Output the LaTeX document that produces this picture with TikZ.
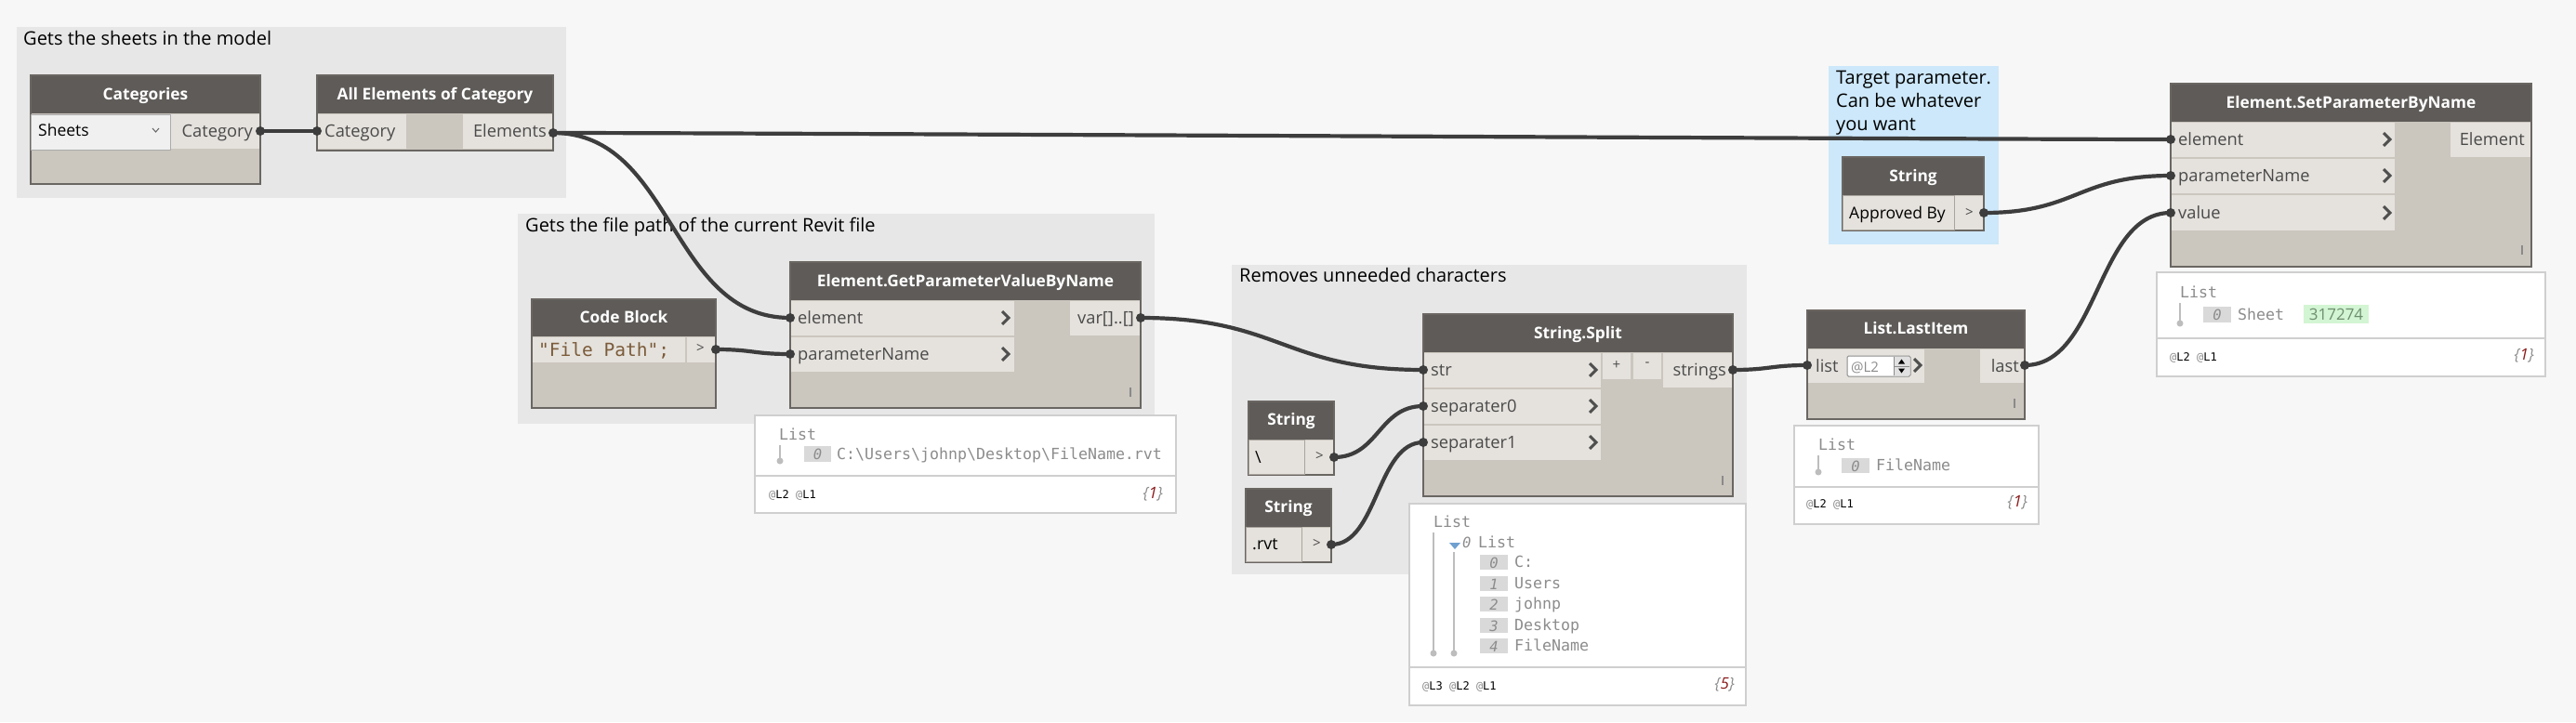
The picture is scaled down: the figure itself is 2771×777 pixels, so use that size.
\documentclass[tikz,border=0pt]{standalone}
\usepackage{fontspec}
\setmainfont{Open Sans}
\setmonofont{DejaVu Sans Mono}
\definecolor{bgc}{HTML}{F7F7F7}
\definecolor{grpc}{HTML}{E7E7E7}
\definecolor{hdrc}{HTML}{5E5B58}
\definecolor{bodyc}{HTML}{CBC6BE}
\definecolor{rowc}{HTML}{E5E2DD}
\definecolor{edgec}{HTML}{6A6662}
\definecolor{wirec}{HTML}{3D3D3D}
\definecolor{txtc}{HTML}{4A4A4A}
\definecolor{watchedge}{HTML}{CFCFCF}
\definecolor{idxc}{HTML}{D9D9D9}
\definecolor{wtxt}{HTML}{8C8C8C}
\definecolor{treec}{HTML}{BDBDBD}
\definecolor{notec}{HTML}{CDE8FA}
\definecolor{codec}{HTML}{7B5B3A}
\definecolor{greenc}{HTML}{D3F5D3}
\definecolor{greent}{HTML}{6E8E6E}
\definecolor{darkredc}{HTML}{8B1A1A}
\definecolor{chevc}{HTML}{4F4F4F}
\definecolor{gripc}{HTML}{8A8A8A}
\definecolor{tric}{HTML}{6FA0D0}
\definecolor{fieldedge}{HTML}{A9A49D}
\newcommand{\dynnode}[5]{%
  \fill[bodyc] (#1,#2) rectangle (#3,#4);
  \fill[hdrc] (#1,#2) rectangle (#3,#5);
  \draw[nodeedge] (#1,#2) rectangle (#3,#4);}
\newcommand{\dynchev}[2]{\draw[chevst] (#1,#2) ++(-4,-7) -- ++(7,7) -- ++(-7,7);}
\newcommand{\dyngrip}[2]{\draw[grip] (#1,#2) -- ++(0,10);}
\newcommand{\dynwatch}[5]{%
  \draw[wbox] (#1,#2) rectangle (#3,#4);
  \draw[draw=watchedge,line width=2pt] (#1,#5) -- (#3,#5);}
\begin{document}
\begin{tikzpicture}[x=1pt,y=-1pt,
  wire/.style={draw=wirec,line width=4.2pt},
  hdrtxt/.style={anchor=base,inner sep=0pt,text=white,font=\fontsize{17.3}{20}\selectfont\bfseries},
  lbl/.style={anchor=base west,inner sep=0pt,text=txtc,font=\fontsize{18.3}{22}\selectfont},
  lblr/.style={anchor=base east,inner sep=0pt,text=txtc,font=\fontsize{18.3}{22}\selectfont},
  gtitle/.style={anchor=base west,inner sep=0pt,text=black,font=\fontsize{20}{24}\selectfont},
  wtext/.style={anchor=base west,inner sep=0pt,text=wtxt,font=\ttfamily\fontsize{16.6}{19}\selectfont},
  wfoot/.style={anchor=base west,inner sep=0pt,text=black,font=\ttfamily\fontsize{12}{14}\selectfont},
  wcount/.style={anchor=base east,inner sep=0pt,text=wtxt,font=\itshape\fontsize{17}{20}\selectfont},
  idxtxt/.style={anchor=center,inner sep=0pt,text=wtxt,font=\ttfamily\itshape\fontsize{15.5}{18}\selectfont},
  chevst/.style={draw=chevc,line width=3pt},
  grip/.style={draw=gripc,line width=1.5pt},
  nodeedge/.style={draw=edgec,line width=1.5pt},
  wbox/.style={fill=white,draw=watchedge,line width=2pt},
  treel/.style={draw=treec,line width=1.5pt},
  rowfill/.style={fill=rowc},
  fieldst/.style={fill=rowc,draw=fieldedge,line width=1pt},
]
% background
\fill[bgc] (0,0) rectangle (2771,777);
\useasboundingbox (0,0) rectangle (2771,777);

% ---------------- groups
\fill[grpc] (18,29) rectangle (609,213);
\node[gtitle] (g1) at (25,48) {Gets the sheets in the model};
\fill[grpc] (557,230) rectangle (1242,456);
\node[gtitle] (g2) at (565,249) {Gets the file path of the current Revit file};
\fill[grpc] (1325,285) rectangle (1879,618);
\node[gtitle] (g3) at (1333,303) {Removes unneeded characters};
\fill[notec] (1967,71) rectangle (2150,263);
\node[gtitle] (n1) at (1975,90) {Target parameter.};
\node[gtitle] (n2) at (1975,115) {Can be whatever};
\node[gtitle] (n3) at (1975,140) {you want};

% ---------------- Categories
\dynnode{33}{81}{280}{198}{122}
\node[hdrtxt] (t-cat) at (156.5,107) {Categories};
\draw[fill=black!6,draw=black!33,line width=1pt] (33,123) rectangle (183,161);
\node[anchor=base west,inner sep=0pt,font=\fontsize{17.5}{20}\selectfont] (sheets) at (41,146) {Sheets};
\draw[draw=black!60,line width=1pt] (164,138) -- (167.5,142) -- (171,138);
\fill[rowfill] (183.5,122.8) rectangle (279.2,160);
\node[lblr] (l-catout) at (272,147) {Category};
\coordinate (catOut) at (280,141);

% ---------------- All Elements of Category
\dynnode{341}{81}{595}{162}{122}
\node[hdrtxt] (t-ae) at (468,107) {All Elements of Category};
\fill[rowfill] (341.8,122.8) rectangle (437,160);
\fill[rowfill] (498,122.8) rectangle (594.2,160);
\node[lbl] (l-aein) at (349,147) {Category};
\node[lblr] (l-aeout) at (588,147) {Elements};
\coordinate (aeIn) at (341,141);
\coordinate (aeOut) at (595,143);

% ---------------- Code Block
\dynnode{572}{322}{770}{439}{362}
\node[hdrtxt] (t-cb) at (671,347) {Code Block};
\fill[rowfill] (572.8,362.8) rectangle (737,390);
\fill[rowfill] (738.5,362.8) rectangle (769.2,390);
\node[anchor=base west,inner sep=0pt,text=codec,font=\ttfamily\fontsize{19.5}{22}\selectfont] (code) at (579,383) {"File Path";};
\node[anchor=center,inner sep=0pt,text=txtc,font=\fontsize{15}{18}\selectfont] (cbgt) at (753.5,375) {>};
\coordinate (cbOut) at (770,376);

% ---------------- Element.GetParameterValueByName
\dynnode{850}{282}{1227}{439}{323}
\node[hdrtxt] (t-gp) at (1038.5,308) {Element.GetParameterValueByName};
\fill[rowfill] (850.8,323.8) rectangle (1091,361);
\fill[rowfill] (850.8,363) rectangle (1091,400);
\fill[rowfill] (1151,323.8) rectangle (1226.2,361);
\node[lbl] (l-gpe) at (858,348) {element};
\node[lbl] (l-gpp) at (858,387) {parameterName};
\node[lblr] (l-gpo) at (1220,348) {var[]..[]};
\dynchev{1082}{342}
\dynchev{1082}{381}
\dyngrip{1216}{417}
\coordinate (gpElem) at (850,342);
\coordinate (gpPN) at (850,381);
\coordinate (gpOut) at (1227,342);

% watch 1
\dynwatch{812}{447}{1265}{552}{512}
\node[wtext] (w1l) at (838,473) {List};
\draw[treel] (839,479) -- (839,495);
\fill[treec] (839,496) circle[radius=3.5pt];
\fill[idxc] (865,480) rectangle (894,497);
\node[idxtxt] (w1i) at (879.5,489) {0};
\node[wtext] (w1v) at (900,494) {C:\textbackslash Users\textbackslash johnp\textbackslash Desktop\textbackslash FileName.rvt};
\node[wfoot] (w1f) at (827,536) {{\color{wtxt}@}L2 {\color{wtxt}@}L1};
\node[wcount] (w1c) at (1251,536) {\{\textcolor{darkredc}{1}\}};

% ---------------- String.Split
\dynnode{1531}{338}{1864}{534}{379}
\node[hdrtxt] (t-ss) at (1697.5,364) {String.Split};
\fill[rowfill] (1531.8,379.8) rectangle (1722,417);
\fill[rowfill] (1531.8,419) rectangle (1722,456);
\fill[rowfill] (1531.8,458) rectangle (1722,495);
\fill[rowfill] (1724,379.8) rectangle (1754,408);
\fill[rowfill] (1757,379.8) rectangle (1787,408);
\fill[rowfill] (1789,379.8) rectangle (1863.2,417);
\node[anchor=center,inner sep=0pt,text=txtc,font=\fontsize{15}{18}\selectfont] (plus) at (1739,393) {+};
\node[anchor=center,inner sep=0pt,text=txtc,font=\fontsize{15}{18}\selectfont] (minus) at (1772,392) {-};
\node[lbl] (l-str) at (1539,404) {str};
\node[lbl] (l-s0) at (1539,443) {separater0};
\node[lbl] (l-s1) at (1539,482) {separater1};
\node[lblr] (l-sso) at (1857,404) {strings};
\dynchev{1714}{398}
\dynchev{1714}{437}
\dynchev{1714}{476}
\dyngrip{1853}{512}
\coordinate (ssStr) at (1531,398);
\coordinate (ssSep0) at (1531,437);
\coordinate (ssSep1) at (1531,476);
\coordinate (ssOut) at (1864,398);

% String "\"
\dynnode{1343}{432}{1435}{511}{473}
\node[hdrtxt] (t-s1) at (1389,457) {String};
\draw[fieldst] (1343.8,473.8) rectangle (1403,510.2);
\fill[rowfill] (1404,473.8) rectangle (1434.2,510.2);
\node[anchor=base west,inner sep=0pt,text=black,font=\fontsize{18}{22}\selectfont] (s1v) at (1350,498) {\textbackslash};
\node[anchor=center,inner sep=0pt,text=txtc,font=\fontsize{15}{18}\selectfont] (s1gt) at (1419.5,491) {>};
\coordinate (s1Out) at (1435,492);

% String ".rvt"
\dynnode{1340}{526}{1432}{605}{567}
\node[hdrtxt] (t-s2) at (1386,551) {String};
\draw[fieldst] (1340.8,567.8) rectangle (1400,604.2);
\fill[rowfill] (1401,567.8) rectangle (1431.2,604.2);
\node[anchor=base west,inner sep=0pt,text=black,font=\fontsize{18}{22}\selectfont] (s2v) at (1347,591) {.rvt};
\node[anchor=center,inner sep=0pt,text=txtc,font=\fontsize{15}{18}\selectfont] (s2gt) at (1416.5,585) {>};
\coordinate (s2Out) at (1432,586);

% watch String.Split
\dynwatch{1516}{542}{1878}{759}{718}
\node[wtext] (w2l) at (1542,567) {List};
\draw[treel] (1542,573) -- (1542,702);
\fill[treec] (1542,703) circle[radius=3.5pt];
\fill[tric] (1559,584) -- (1571,584) -- (1565,591) -- cycle;
\node[anchor=base west,inner sep=0pt,text=wtxt,font=\ttfamily\itshape\fontsize{15.5}{18}\selectfont] (w2z) at (1573,589) {0};
\node[wtext] (w2l2) at (1590,589) {List};
\draw[treel] (1564,594) -- (1564,702);
\fill[treec] (1564,703) circle[radius=3.5pt];
\foreach \yy/\ii/\tt in {605/0/C:,628/1/Users,650/2/johnp,673/3/Desktop,695/4/FileName}{
  \fill[idxc] (1592,\yy-8) rectangle (1622,\yy+8);
  \node[idxtxt] (w2i\ii) at (1607,\yy+1) {\ii};
  \node[wtext] (w2v\ii) at (1629,\yy+5) {\tt};
}
\node[wfoot] (w2f) at (1530,742) {{\color{wtxt}@}L3 {\color{wtxt}@}L2 {\color{wtxt}@}L1};
\node[wcount] (w2c) at (1866,741) {\{\textcolor{darkredc}{5}\}};

% ---------------- List.LastItem
\dynnode{1944}{334}{2178}{451}{375}
\node[hdrtxt] (t-li) at (2061,359) {List.LastItem};
\fill[rowfill] (1944.8,375.8) rectangle (2070,412);
\fill[rowfill] (2130,375.8) rectangle (2177.2,412);
\node[lbl] (l-lii) at (1953,400) {list};
\draw[fill=white,draw=black!45,line width=1pt,rounded corners=1.5pt] (1987,383) rectangle (2055,405);
\node[anchor=base west,inner sep=0pt,text=wtxt,font=\fontsize{15}{18}\selectfont] (lispin) at (1991,400) {@L2};
\fill[black!12] (2037,384) rectangle (2054,404);
\draw[black!45,line width=0.8pt] (2037,384) -- (2037,404);
\draw[black!45,line width=0.8pt] (2037,394) -- (2054,394);
\fill[black] (2042,391.5) -- (2049,391.5) -- (2045.5,386.5) -- cycle;
\fill[black] (2042,396.5) -- (2049,396.5) -- (2045.5,401.5) -- cycle;
\dynchev{2063}{393}
\node[lblr] (l-lio) at (2172,400) {last};
\dyngrip{2167}{429}
\coordinate (liIn) at (1944,393);
\coordinate (liOut) at (2178,393);

% watch List.LastItem
\dynwatch{1930}{458}{2193}{564}{524}
\node[wtext] (w3l) at (1956,484) {List};
\draw[treel] (1956,490) -- (1956,507);
\fill[treec] (1956,508) circle[radius=3.5pt];
\fill[idxc] (1981,493) rectangle (2011,509);
\node[idxtxt] (w3i) at (1996,502) {0};
\node[wtext] (w3v) at (2018,506) {FileName};
\node[wfoot] (w3f) at (1943,546) {{\color{wtxt}@}L2 {\color{wtxt}@}L1};
\node[wcount] (w3c) at (2181,545) {\{\textcolor{darkredc}{1}\}};

% ---------------- String "Approved By"
\dynnode{1982}{169}{2134}{248}{210}
\node[hdrtxt] (t-sa) at (2058,195) {String};
\draw[fieldst] (1982.8,210.8) rectangle (2102,247.2);
\fill[rowfill] (2103,210.8) rectangle (2133.2,247.2);
\node[anchor=base west,inner sep=0pt,text=black,font=\fontsize{17.5}{22}\selectfont] (sav) at (1989,235) {Approved By};
\node[anchor=center,inner sep=0pt,text=txtc,font=\fontsize{15}{18}\selectfont] (sagt) at (2118.5,229) {>};
\coordinate (sAOut) at (2134,229);

% ---------------- Element.SetParameterByName
\dynnode{2335}{90}{2723}{287}{131}
\node[hdrtxt] (t-sp) at (2529,116) {Element.SetParameterByName};
\fill[rowfill] (2335.8,131.8) rectangle (2576,169);
\fill[rowfill] (2335.8,171) rectangle (2576,208);
\fill[rowfill] (2335.8,210) rectangle (2576,248);
\fill[rowfill] (2636,131.8) rectangle (2722.2,169);
\node[lbl] (l-spe) at (2343,156) {element};
\node[lbl] (l-spp) at (2343,195) {parameterName};
\node[lbl] (l-spv) at (2343,235) {value};
\node[lblr] (l-spo) at (2716,156) {Element};
\dynchev{2568}{150}
\dynchev{2568}{189}
\dynchev{2568}{229}
\dyngrip{2713}{264}
\coordinate (spElem) at (2335,150);
\coordinate (spPN) at (2335,189);
\coordinate (spVal) at (2335,229);

% watch SetParameterByName
\dynwatch{2320}{293}{2738}{405}{364}
\node[wtext] (w4l) at (2345,320) {List};
\draw[treel] (2345,326) -- (2345,347);
\fill[treec] (2345,348) circle[radius=3.5pt];
\fill[idxc] (2370,330) rectangle (2400,347);
\node[idxtxt] (w4i) at (2385,339) {0};
\node[wtext] (w4v) at (2407,344) {Sheet};
\fill[greenc] (2478,328) rectangle (2548,348);
\node[anchor=base,inner sep=0pt,text=greent,font=\fontsize{17}{20}\selectfont] (w4g) at (2513,344) {317274};
\node[wfoot] (w4f) at (2334,388) {{\color{wtxt}@}L2 {\color{wtxt}@}L1};
\node[wcount] (w4c) at (2726,387) {\{\textcolor{darkredc}{1}\}};

% ---------------- wires
\draw[wire] (catOut) -- (aeIn);
\draw[wire] (aeOut) .. controls +(200,0) and +(-200,0) .. (spElem);
\draw[wire] (aeOut) .. controls +(130,0) and +(-130,0) .. (gpElem);
\draw[wire] (cbOut) .. controls +(40,0) and +(-40,0) .. (gpPN);
\draw[wire] (gpOut) .. controls +(150,0) and +(-150,0) .. (ssStr);
\draw[wire] (s1Out) .. controls +(48,0) and +(-48,0) .. (ssSep0);
\draw[wire] (s2Out) .. controls +(50,0) and +(-50,0) .. (ssSep1);
\draw[wire] (ssOut) .. controls +(40,0) and +(-40,0) .. (liIn);
\draw[wire] (liOut) .. controls +(80,0) and +(-80,0) .. (spVal);
\draw[wire] (sAOut) .. controls +(100,0) and +(-100,0) .. (spPN);
\foreach \pp in {catOut,aeIn,aeOut,cbOut,gpElem,gpPN,gpOut,ssStr,ssSep0,ssSep1,ssOut,s1Out,s2Out,liIn,liOut,sAOut,spElem,spPN,spVal}{
  \fill[wirec] (\pp) circle[radius=5pt];
}
\end{tikzpicture}
\end{document}
